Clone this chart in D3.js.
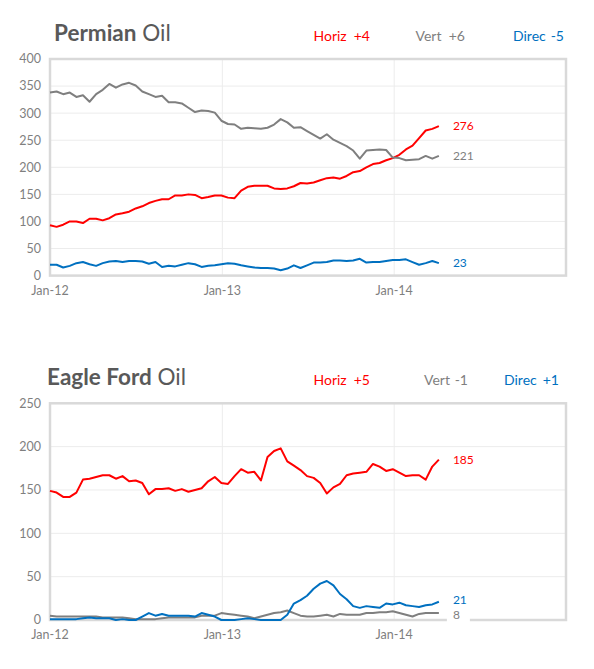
<!DOCTYPE html>
<html>
<head>
<meta charset="utf-8">
<script src="https://cdn.jsdelivr.net/npm/d3@7/dist/d3.min.js"></script>
<style>
    body { margin: 0; background: #fff; }
    text { font-family: Lato, "Open Sans", sans-serif; }
</style>
</head>
<body>
<div id="canvas"></div>
<script>
/* Biweekly rig counts, first point Jan 1 2012 */
var startDate = new Date(2012, 0, 1);
var stepDays = 14;

var seriesNames = ['Horiz', 'Vert', 'Direc'];
var seriesColors = ['#ff0000', '#7f7f7f', '#0070c0'];
var xTickLabels = ['Jan-12', 'Jan-13', 'Jan-14'];

var permianHoriz = [93, 90, 94, 100, 100, 97, 105, 105, 102, 106, 113, 115, 118, 124, 128,
    134, 138, 141, 141, 148, 148, 150, 149, 143, 145, 148, 148, 144, 143, 157, 164, 166, 166,
    166, 161, 160, 161, 165, 171, 170, 172, 176, 180, 181, 179, 184, 191, 193, 200, 206, 208,
    213, 217, 223, 233, 240, 254, 268, 271, 276];
var permianVert = [338, 340, 335, 338, 330, 333, 321, 335, 343, 354, 347, 353, 356, 351, 340,
    335, 330, 332, 320, 320, 318, 310, 302, 305, 304, 301, 286, 280, 279, 271, 273, 272, 271,
    273, 279, 289, 283, 273, 274, 267, 260, 253, 261, 251, 245, 239, 231, 216, 231, 232, 233,
    232, 218, 217, 213, 214, 215, 221, 216, 221];
var permianDirec = [20, 20, 15, 18, 23, 25, 21, 18, 23, 26, 27, 25, 27, 27, 26, 22, 25, 16,
    18, 17, 20, 23, 21, 16, 18, 19, 21, 23, 22, 19, 17, 15, 14, 14, 13, 10, 13, 19, 14, 19,
    24, 24, 25, 28, 28, 27, 28, 31, 24, 25, 25, 27, 29, 29, 30, 25, 20, 23, 27, 23];
var permianDeltas = ['+4', '+6', '-5'];
var permianTicks = [0, 50, 100, 150, 200, 250, 300, 350, 400];

var eagleHoriz = [149, 147, 142, 142, 147, 162, 163, 165, 167, 167, 163, 166, 160, 161, 158,
    145, 151, 151, 152, 149, 151, 148, 150, 152, 160, 165, 158, 157, 166, 174, 170, 171, 161,
    188, 195, 198, 183, 178, 173, 166, 164, 158, 146, 153, 157, 167, 169, 170, 171, 180, 177,
    172, 174, 170, 166, 167, 167, 162, 177, 185];
var eagleVert = [5, 4, 4, 4, 4, 4, 4, 4, 3, 3, 3, 3, 2, 1, 1, 1, 1, 2, 3, 3, 3, 3, 3, 5, 5,
    5, 8, 7, 6, 5, 4, 2, 4, 6, 8, 9, 11, 8, 5, 4, 4, 5, 6, 4, 7, 6, 6, 6, 8, 8, 9, 9, 10, 8,
    6, 4, 7, 8, 8, 8];
var eagleDirec = [1, 1, 1, 1, 1, 2, 3, 2, 2, 2, 0, 1, 0, 0, 4, 8, 5, 7, 5, 5, 5, 5, 4, 8, 6,
    4, 0, 0, 0, 1, 2, 1, 0, 0, 0, 0, 6, 19, 23, 28, 36, 42, 45, 40, 30, 24, 16, 14, 16, 15,
    14, 19, 18, 20, 17, 16, 15, 17, 18, 21];
var eagleDeltas = ['+5', '-1', '+1'];
var eagleTicks = [0, 50, 100, 150, 200, 250];

var dates = permianHoriz.map(function(d, i) {
    return d3.timeDay.offset(startDate, i * stepDays);
});

var svg = d3.select('#canvas').append('svg');
svg.attr('width', 594)
   .attr('height', 669);

var x = d3.scaleTime()
          .domain([new Date(2012, 0, 1), new Date(2015, 0, 1)])
          .range([50, 566]);

function drawChart(cfg)
{
    var g = svg.append('g');

    var y = d3.scaleLinear()
              .domain([0, cfg.ticks[cfg.ticks.length - 1]])
              .range([cfg.bottom, cfg.top]);

    /* Заголовок */
    var title = g.append('text')
                 .attr('x', cfg.titleX)
                 .attr('y', cfg.top - 18)
                 .attr('fill', '#595959')
                 .style('font-size', '22.5px');
    title.append('tspan').style('font-weight', 'bold').text(cfg.titleBold);
    title.append('tspan').text(' Oil');

    /* Легенда с изменениями за неделю */
    seriesNames.forEach(function(name, i) {
        var item = cfg.legend[i];
        g.append('text')
         .attr('x', item[0])
         .attr('y', cfg.top - 18)
         .attr('fill', seriesColors[i])
         .style('font-size', '14px')
         .text(name);
        g.append('text')
         .attr('x', item[1])
         .attr('y', cfg.top - 18)
         .attr('text-anchor', 'end')
         .attr('fill', seriesColors[i])
         .style('font-size', '14px')
         .text(cfg.deltas[i]);
    });

    /* Сетка */
    g.selectAll('.hgrid')
     .data(cfg.ticks)
     .enter()
         .append('line')
         .attr('x1', 50).attr('x2', 566)
         .attr('y1', function(d) { return y(d); })
         .attr('y2', function(d) { return y(d); })
         .attr('stroke', '#ececec');

    var years = x.ticks(d3.timeYear.every(1));
    g.selectAll('.vgrid')
     .data(years)
     .enter()
         .append('line')
         .attr('x1', function(d) { return x(d); })
         .attr('x2', function(d) { return x(d); })
         .attr('y1', cfg.top).attr('y2', cfg.bottom)
         .attr('stroke', '#ececec');

    g.append('rect')
     .attr('x', 50).attr('y', cfg.top)
     .attr('width', 516).attr('height', cfg.bottom - cfg.top)
     .attr('fill', 'none')
     .attr('stroke', '#d9d9d9')
     .attr('stroke-width', 2.5);

    /* Подписи осей */
    g.selectAll('.ylab')
     .data(cfg.ticks)
     .enter()
         .append('text')
         .attr('x', 41)
         .attr('y', function(d) { return y(d); })
         .attr('dy', '0.35em')
         .attr('text-anchor', 'end')
         .attr('fill', '#7f7f7f')
         .style('font-size', '12.5px')
         .text(function(d) { return d; });

    g.selectAll('.xlab')
     .data(years.slice(0, xTickLabels.length))
     .enter()
         .append('text')
         .attr('x', function(d) { return x(d); })
         .attr('y', cfg.bottom + 19)
         .attr('text-anchor', 'middle')
         .attr('fill', '#7f7f7f')
         .style('font-size', '12.5px')
         .text(function(d, i) { return xTickLabels[i]; });

    /* Линии */
    var line = d3.line()
                 .x(function(d, i) { return x(dates[i]); })
                 .y(function(d) { return y(d); });

    cfg.series.forEach(function(values, i) {
        g.append('path')
         .attr('d', line(values))
         .attr('fill', 'none')
         .attr('stroke', seriesColors[i])
         .attr('stroke-width', 2)
         .attr('stroke-linejoin', 'round');
    });

    /* Значения на конце линий, на белой подложке;
    nudge раздвигает близкие подписи */
    var last = dates.length - 1;
    cfg.series.forEach(function(values, i) {
        var v = values[last];
        g.append('rect')
         .attr('x', x(dates[last]) + 8)
         .attr('y', y(v) + cfg.nudge[i] - 7.5)
         .attr('width', 19 + String(v).length * 4)
         .attr('height', 15)
         .attr('fill', '#fff');
    });
    cfg.series.forEach(function(values, i) {
        var v = values[last];
        g.append('text')
         .attr('x', x(dates[last]) + 14)
         .attr('y', y(v) + cfg.nudge[i])
         .attr('dy', '0.35em')
         .attr('fill', seriesColors[i])
         .style('font-size', '12px')
         .text(v);
    });
}

drawChart({
    top: 59, bottom: 275.6, ticks: permianTicks,
    titleX: 54, titleBold: 'Permian',
    legend: [[313.5, 370], [415.5, 465], [513, 564]],
    deltas: permianDeltas,
    nudge: [0, 0, 0],
    series: [permianHoriz, permianVert, permianDirec]
});

drawChart({
    top: 403.3, bottom: 620, ticks: eagleTicks,
    titleX: 47, titleBold: 'Eagle Ford',
    legend: [[313.5, 370], [424, 468], [504, 559]],
    deltas: eagleDeltas,
    nudge: [0, 2, -1.5],
    series: [eagleHoriz, eagleVert, eagleDirec]
});
</script>
</body>
</html>
